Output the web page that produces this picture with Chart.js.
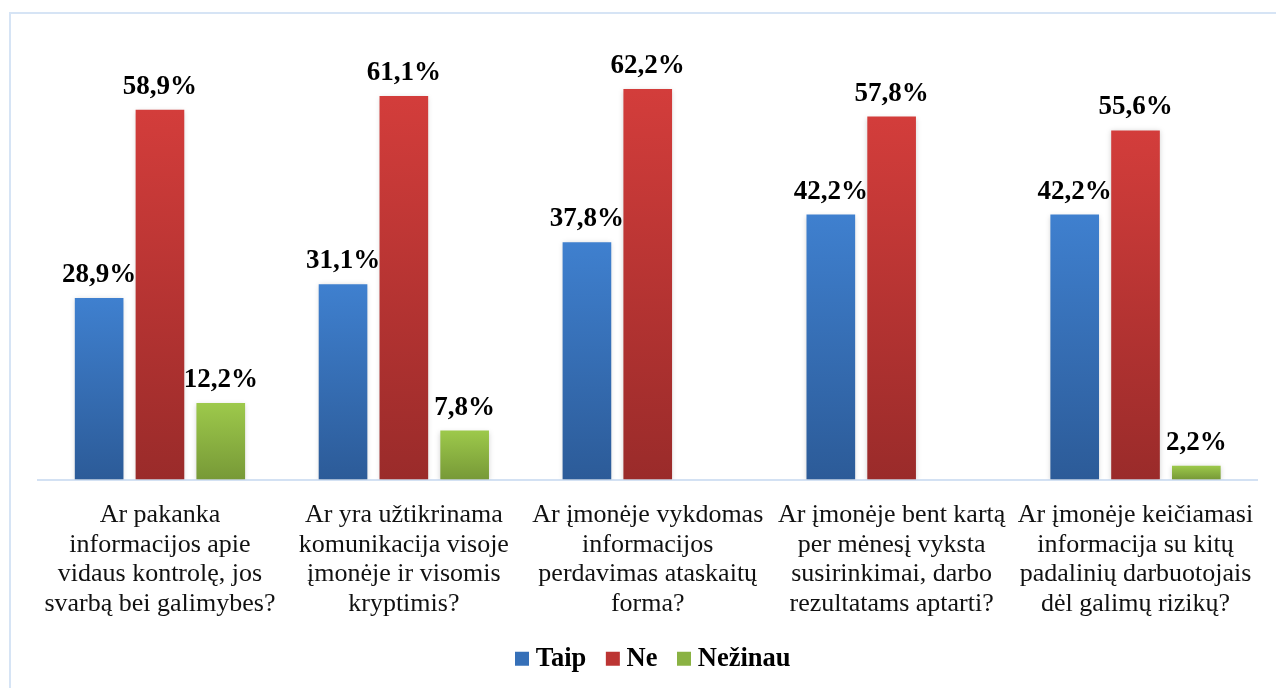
<!DOCTYPE html>
<html>
<head>
<meta charset="utf-8">
<script src="https://cdn.jsdelivr.net/npm/chart.js@4/dist/chart.umd.min.js"></script>
<style>
  html, body { margin: 0; padding: 0; background: #fff; }
  #wrap { position: relative; width: 1276px; height: 688px; }
  #frame { position: absolute; left: 9px; top: 12px; width: 1300px; height: 700px;
           border-top: 2px solid #D6E4F5; border-left: 2px solid #D6E4F5; pointer-events: none; }
  canvas { position: absolute; left: 0; top: 0; }
</style>
</head>
<body>
<div id="wrap">
  <canvas id="c" width="1276" height="688"></canvas>
  <div id="frame"></div>
</div>
<script>
const categories = [
  ["Ar pakanka", "informacijos apie", "vidaus kontrolę, jos", "svarbą bei galimybes?"],
  ["Ar yra užtikrinama", "komunikacija visoje", "įmonėje ir visomis", "kryptimis?"],
  ["Ar įmonėje vykdomas", "informacijos", "perdavimas ataskaitų", "forma?"],
  ["Ar įmonėje bent kartą", "per mėnesį vyksta", "susirinkimai, darbo", "rezultatams aptarti?"],
  ["Ar įmonėje keičiamasi", "informacija su kitų", "padalinių darbuotojais", "dėl galimų rizikų?"]
];
const seriesNames = ["Taip", "Ne", "Nežinau"];
const taip = [28.9, 31.1, 37.8, 42.2, 42.2];
const ne = [58.9, 61.1, 62.2, 57.8, 55.6];
const nezinau = [12.2, 7.8, null, null, 2.2];

const gradColors = [
  ["#3F80CF", "#2C5B98"],
  ["#D33D3B", "#9A2B2A"],
  ["#9DC94B", "#779937"]
];
const legendColors = ["#3670B8", "#BC3533", "#8AB243"];

function barGradient(idx) {
  return function (ctx) {
    const chart = ctx.chart;
    const area = chart.chartArea;
    if (!area || ctx.type !== 'data') return gradColors[idx][0];
    const v = ctx.raw;
    if (v == null) return gradColors[idx][0];
    const yScale = chart.scales.y;
    const top = yScale.getPixelForValue(v);
    const bottom = yScale.getPixelForValue(0);
    const g = chart.ctx.createLinearGradient(0, top, 0, bottom);
    g.addColorStop(0, gradColors[idx][0]);
    g.addColorStop(1, gradColors[idx][1]);
    return g;
  };
}

const shadowPlugin = {
  id: 'shadow',
  beforeDatasetsDraw(chart) {
    const c = chart.ctx;
    c.save();
    c.shadowColor = 'rgba(0,0,0,0.18)';
    c.shadowBlur = 5;
    c.shadowOffsetX = 0;
    c.shadowOffsetY = 1;
  },
  afterDatasetsDraw(chart) {
    chart.ctx.restore();
  }
};

const legendShift = {
  id: 'legendShift',
  afterLayout(chart) {
    if (chart.legend) {
      chart.legend.left += 8;
      chart.legend.right += 8;
    }
  }
};

const labelPlugin = {
  id: 'valueLabels',
  afterDatasetsDraw(chart) {
    const c = chart.ctx;
    c.save();
    c.font = 'bold 27px "Liberation Serif", "Times New Roman", serif';
    c.fillStyle = '#000';
    c.textAlign = 'center';
    c.textBaseline = 'alphabetic';
    chart.data.datasets.forEach((ds, di) => {
      const meta = chart.getDatasetMeta(di);
      meta.data.forEach((bar, i) => {
        const v = ds.data[i];
        if (v == null) return;
        const txt = v.toFixed(1).replace('.', ',') + '%';
        c.fillText(txt, bar.x, bar.y - 16);
      });
    });
    c.restore();
  }
};

const datasets = [taip, ne, nezinau].map((arr, i) => ({
  label: seriesNames[i],
  data: arr,
  backgroundColor: barGradient(i),
  borderWidth: 0,
  categoryPercentage: 0.748,
  barPercentage: 0.8
}));

new Chart(document.getElementById('c'), {
  type: 'bar',
  data: { labels: categories, datasets: datasets },
  options: {
    responsive: false,
    animation: false,
    devicePixelRatio: 1,
    layout: { padding: { left: 38, right: 18, top: 40, bottom: 6 } },
    scales: {
      x: {
        grid: { display: false, drawTicks: false },
        border: { display: true, color: '#D3E1F3', width: 2 },
        ticks: {
          color: '#111',
          padding: 21,
          maxRotation: 0,
          minRotation: 0,
          autoSkip: false,
          font: { family: '"Liberation Serif", "Times New Roman", serif', size: 26, lineHeight: 1.135 }
        },
        afterFit(scale) { scale.height = 140; }
      },
      y: {
        display: false,
        min: 0,
        max: 70
      }
    },
    plugins: {
      legend: {
        position: 'bottom',
        labels: {
          usePointStyle: true,
          pointStyle: 'rect',
          boxWidth: 1,
          boxHeight: 14,
          padding: 26,
          color: '#000',
          font: { family: '"Liberation Serif", "Times New Roman", serif', size: 26.5, weight: 'bold' },
          generateLabels(chart) {
            return chart.data.datasets.map((ds, i) => ({
              text: ds.label,
              fillStyle: legendColors[i],
              strokeStyle: legendColors[i],
              lineWidth: 0,
              pointStyle: 'rect',
              hidden: false,
              datasetIndex: i
            }));
          }
        }
      },
      tooltip: { enabled: false }
    }
  },
  plugins: [shadowPlugin, labelPlugin, legendShift]
});
</script>
</body>
</html>
